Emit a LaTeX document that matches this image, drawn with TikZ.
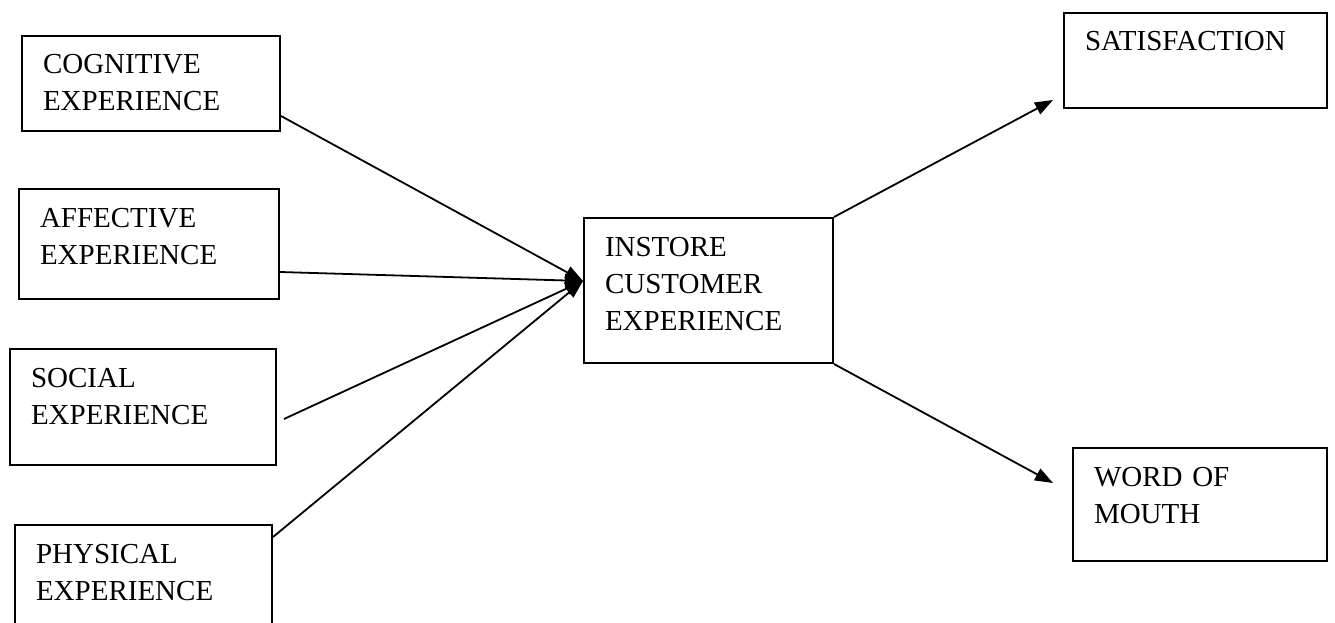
\documentclass[tikz,border=0pt]{standalone}
\usepackage{fontspec}
\setmainfont{Liberation Serif}
\usetikzlibrary{arrows.meta}
\tikzset{
	exbox/.style={draw, line width=2pt, anchor=north west, align=left,
		inner xsep=21pt, inner ysep=0pt, text height=38pt,
		font=\fontsize{29}{37}\selectfont},
	link/.style={line width=1.8pt, -{Triangle[length=18pt,width=13pt]}}
}
\begin{document}
\begin{tikzpicture}[x=1pt,y=-1pt]
			\useasboundingbox (0,0) rectangle (1335,623);
			% left column
			\node[exbox, text width=216pt, text depth=57pt] (cog) at (21,35) {COGNITIVE\\EXPERIENCE};
			\node[exbox, text width=218pt, text depth=72pt] (aff) at (18,188) {AFFECTIVE\\EXPERIENCE};
			\node[exbox, text width=224pt, text depth=78pt] (soc) at (9,348) {SOCIAL\\EXPERIENCE};
			\node[exbox, text width=215pt, text depth=78pt] (phy) at (14,524) {PHYSICAL\\EXPERIENCE};
			% middle
			\node[exbox, text width=207pt, text depth=107pt] (ice) at (583,217) {INSTORE\\CUSTOMER\\EXPERIENCE};
			% right column
			\node[exbox, text width=221pt, text depth=57pt] (sat) at (1063,12) {SATISFACTION};
			\node[exbox, text width=212pt, text depth=75pt] (wom) at (1072,447) {WORD OF\\MOUTH};
			\coordinate (hub) at ([yshift=9.5pt]ice.west);
			\coordinate (sattip) at ([xshift=-10pt,yshift=9pt]sat.south west);
			\coordinate (womtip) at ([xshift=-19pt,yshift=-36pt]wom.north west);
			\draw[link] ([yshift=16pt]cog.south east) -- (hub);
			\draw[link] ([yshift=28pt]aff.south east) -- (hub);
			\draw[link] ([xshift=7pt,yshift=47pt]soc.south east) -- (hub);
			\draw[link] ([yshift=-13pt]phy.north east) -- (hub);
			\draw[link] (ice.north east) -- (sattip);
			\draw[link] (ice.south east) -- (womtip);
		\end{tikzpicture}
\end{document}
